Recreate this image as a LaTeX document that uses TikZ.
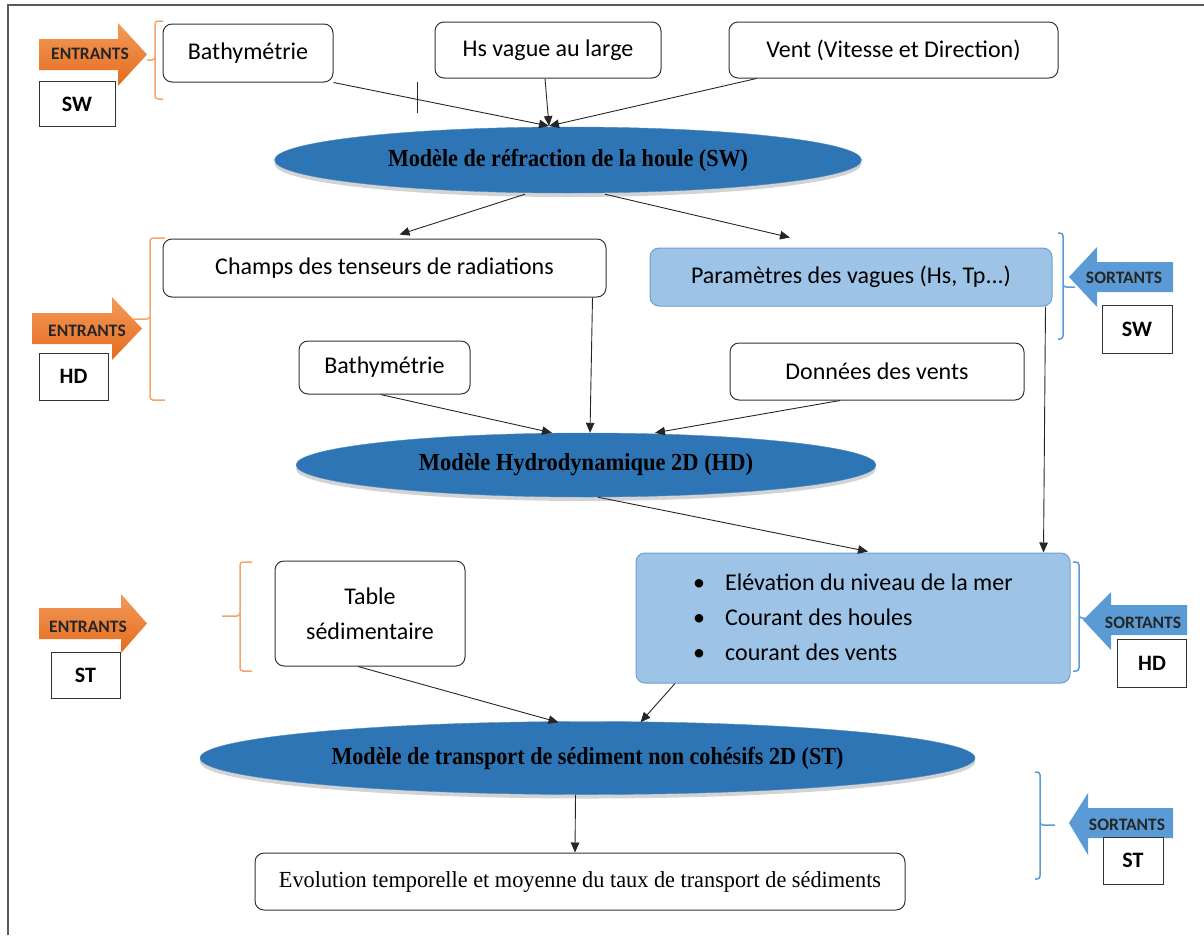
\documentclass[tikz,border=0pt]{standalone}
\usepackage{fontspec}
\usepackage{graphicx}
\setmainfont{Carlito}
\newfontfamily\tnr{Liberation Serif}
\usetikzlibrary{shapes.geometric,arrows.meta,shadows,calc}
\definecolor{ellblue}{HTML}{2E75B6}
\definecolor{lblue}{HTML}{9DC3E6}
\definecolor{lblueline}{HTML}{6F9FD0}
\definecolor{aorange}{HTML}{ED7D31}
\definecolor{aorangelight}{HTML}{F39A5A}
\definecolor{aorangedark}{HTML}{E46C1E}
\definecolor{borange}{HTML}{F4A46C}
\definecolor{ablue}{HTML}{5B9BD5}
\newcommand{\ellfont}{\tnr\bfseries\fontsize{24.5}{28}\selectfont}
\newcommand{\evfont}{\tnr\fontsize{23}{27}\selectfont}
\begin{document}
\begin{tikzpicture}[x=1pt,y=-1pt,
  box/.style={draw=black!80,line width=1pt,rounded corners=9pt,fill=white,
    font=\fontsize{24}{35}\selectfont,inner sep=0pt,align=center},
  bbox/.style={box,fill=lblue,draw=lblueline},
  ell/.style={ellipse,fill=ellblue,draw=ellblue!85!white,inner sep=0pt,
    drop shadow={shadow xshift=0pt,shadow yshift=-4pt,opacity=0.35}},
  lab/.style={draw=black!80,line width=1pt,fill=white,inner sep=0pt,
    font=\fontsize{22}{26}\selectfont\bfseries},
  atext/.style={inner sep=0pt,text=black!85,font=\fontsize{17.5}{20}\selectfont\bfseries},
  oarrow/.style={top color=aorangelight,bottom color=aorangedark},
  arr/.style={-{Triangle[length=10pt,width=8.5pt]},line width=0.9pt,draw=black!85},
  obrace/.style={draw=borange,line width=1.5pt,rounded corners=3pt},
  bbrace/.style={draw=ablue,line width=1.5pt,rounded corners=3pt}]
\useasboundingbox (0,0) rectangle (1204,935);
% frame
\draw[black!65,line width=1.2pt] (8,935) -- (8,5) -- (1204,5);

% ---------- SW block ----------
\node[box,minimum width=170,minimum height=58] (bat1) at (248,53) {Bathymétrie};
\node[box,minimum width=226,minimum height=56] (hs) at (548,50) {Hs vague au large};
\node[box,minimum width=329,minimum height=56] (vent) at (893.5,50) {Vent (Vitesse et Direction)};
\node[ell,minimum width=587,minimum height=66] (ell1) at (568,160)
  {\ellfont\resizebox{360pt}{\height}{Modèle de réfraction de la houle (SW)}};
\coordinate (c1) at (549,126);
\draw[arr] (bat1.south east) -- (c1);
\draw[arr] ($(hs.south)+(-3,0)$) -- (c1);
\draw[arr] ($(vent.south west)+(28,0)$) -- (c1);
\draw[black!85,line width=0.9pt] (417,82) -- (417,113);

% ---------- HD block ----------
\node[box,minimum width=443,minimum height=58] (champs) at (384.5,268) {Champs des tenseurs de radiations};
\node[bbox,minimum width=402,minimum height=58] (param) at (851,277) {Paramètres des vagues (Hs, Tp...)};
\draw[arr] ($(ell1.south)+(-43,1)$) -- ($(champs.north)+(15,-4)$);
\draw[arr] ($(ell1.south)+(37,1)$) -- ($(param.north)+(-61,-10)$);
\node[box,minimum width=171,minimum height=53] (bat2) at (384.5,367.5) {Bathymétrie};
\node[box,minimum width=294,minimum height=57] (donnees) at (877,371.5) {Données des vents};
\node[ell,minimum width=580,minimum height=64] (ell2) at (586,465)
  {\ellfont\resizebox{334pt}{\height}{Modèle Hydrodynamique 2D (HD)}};
\draw[arr] ($(champs.south east)+(-14,0)$) -- ($(ell2.north)+(4,0)$);
\draw[arr] ($(bat2.south)+(-4,0)$) -- ($(ell2.north)+(-34,0)$);
\draw[arr] ($(donnees.south)+(-37,0)$) -- ($(ell2.north)+(69,0)$);

% ---------- ST block ----------
\node[box,minimum width=190,minimum height=105] (table) at (370,613.5) {Table\\sédimentaire};
\node[bbox,minimum width=434,minimum height=130] (hdout) at (853,618)
  {\begin{tabular}{@{}l@{\hspace{20pt}}l@{}}
   \textbullet & Elévation du niveau de la mer\\
   \textbullet & Courant des houles\\
   \textbullet & courant des vents
   \end{tabular}};
\draw[arr] ($(param.south east)+(-7,0)$) -- ($(hdout.north east)+(-27,0)$);
\draw[arr] ($(ell2.south)+(12,0)$) -- ($(hdout.north)+(15,-1)$);
\node[ell,minimum width=775,minimum height=73] (ell3) at (587.5,758)
  {\ellfont\resizebox{512pt}{\height}{Modèle de transport de sédiment non cohésifs 2D (ST)}};
\draw[arr] ($(table.south)+(-12,0)$) -- ($(ell3.north)+(-29,1)$);
\draw[arr] ($(hdout.south)+(-178,0)$) -- ($(ell3.north)+(53,1)$);
\node[box,minimum width=650,minimum height=57] (evol) at (580,881.5)
  {\evfont\resizebox{602pt}{\height}{Evolution temporelle et moyenne du taux de transport de sédiments}};
\draw[arr] ($(ell3.south)+(-12,0)$) -- ($(evol.north)+(-5,0)$);

% ---------- ENTRANTS arrows ----------
\shade[oarrow] (39,39) -- (118,39) -- (118,23) -- (147,54.5) -- (118,86) -- (118,70) -- (39,70) -- cycle;
\node[atext] (ent1) at (90,54) {ENTRANTS};
\node[lab,minimum width=76,minimum height=45] (sw1) at (77,104) {SW};
\draw[obrace] (163,21) -- (155,21) -- (155,60) -- (147,60);
\draw[obrace] (155,58) -- (155,99) -- (163,99);

\shade[oarrow] (32,313) -- (112,313) -- (112,297) -- (142,328.5) -- (112,360) -- (112,344) -- (32,344) -- cycle;
\node[atext] (ent2) at (87,331) {ENTRANTS};
\node[lab,minimum width=69,minimum height=47] (hd1) at (73.5,376.5) {HD};
\draw[obrace] (165,238) -- (150,238) -- (150,319) -- (133,319);
\draw[obrace] (150,317) -- (150,400) -- (165,400);

\shade[oarrow] (39,608) -- (121,608) -- (121,594) -- (147,623.5) -- (121,653) -- (121,639) -- (39,639) -- cycle;
\node[atext] (ent3) at (88,627) {ENTRANTS};
\node[lab,minimum width=69,minimum height=46] (st1) at (85.5,675) {ST};
\draw[obrace] (252,562) -- (240,562) -- (240,616) -- (222,616);
\draw[obrace] (240,614) -- (240,671) -- (252,671);

% ---------- SORTANTS arrows ----------
\fill[ablue] (1069,277) -- (1097,247) -- (1097,262) -- (1173,262) -- (1173,292) -- (1097,292) -- (1097,307) -- cycle;
\node[atext] (sor1) at (1124,278) {SORTANTS};
\node[lab,minimum width=70,minimum height=48] (sw2) at (1137,329) {SW};
\draw[bbrace] (1058,233) -- (1063,233) -- (1063,287) -- (1075,287);
\draw[bbrace] (1063,285) -- (1063,339) -- (1058,339);

\fill[ablue] (1083,620) -- (1111,592) -- (1111,605) -- (1187,605) -- (1187,635) -- (1111,635) -- (1111,650) -- cycle;
\node[atext] (sor2) at (1143,623) {SORTANTS};
\node[lab,minimum width=69,minimum height=48] (hd2) at (1152,663) {HD};
\draw[bbrace] (1073,562) -- (1079,562) -- (1079,618) -- (1085,618);
\draw[bbrace] (1079,616) -- (1079,671) -- (1073,671);

\fill[ablue] (1069,823) -- (1088,793) -- (1088,808) -- (1173,808) -- (1173,838) -- (1088,838) -- (1088,855) -- cycle;
\node[atext] (sor3) at (1127,825) {SORTANTS};
\node[lab,minimum width=60,minimum height=47] (st2) at (1133,860.5) {ST};
\draw[bbrace] (1035,772) -- (1040,772) -- (1040,825) -- (1055,825);
\draw[bbrace] (1040,823) -- (1040,879) -- (1035,879);
\end{tikzpicture}
\end{document}
